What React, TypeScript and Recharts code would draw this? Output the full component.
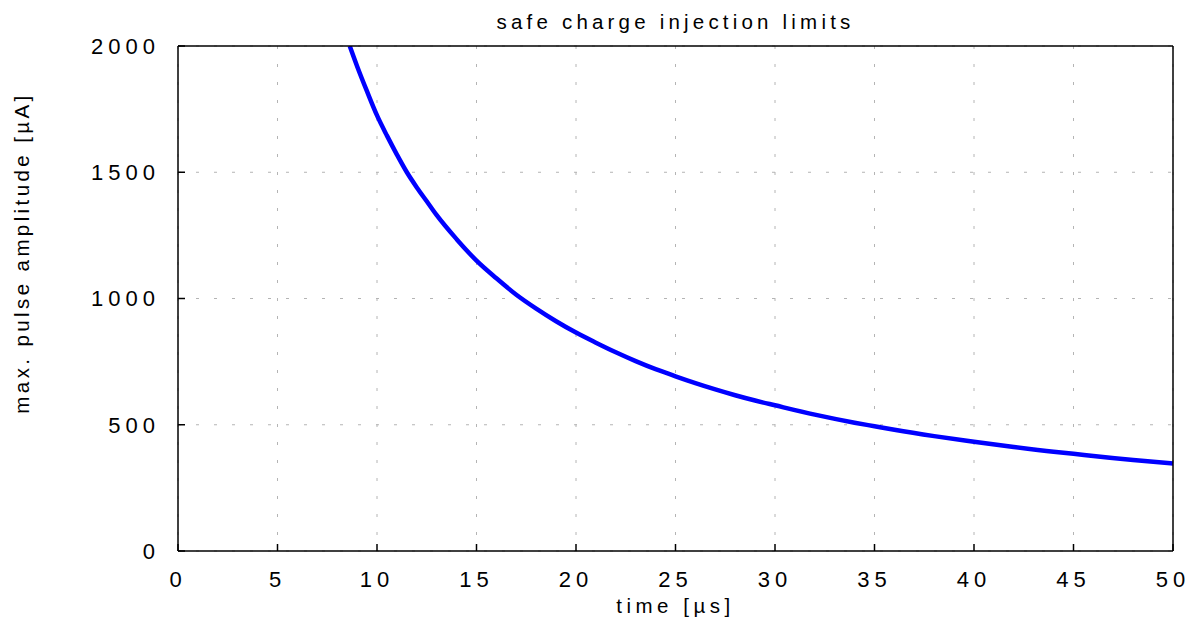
import React from 'react';
import { LineChart, Line, XAxis, YAxis, CartesianGrid } from 'recharts';

const timeUs = [8.63, 9, 9.5, 10, 10.5, 11, 11.5, 12, 12.5, 13, 14, 15, 16, 17, 18, 19, 20, 21, 22, 23, 24, 25, 26, 27, 28, 29, 30, 32, 34, 35, 36, 38, 40, 42, 44, 45, 46, 48, 50];
const amplitude = [2000, 1920, 1820, 1725, 1645, 1570, 1500, 1440, 1385, 1330, 1235, 1150, 1080, 1015, 960, 910, 865, 825, 787, 752, 720, 692, 665, 640, 617, 596, 577, 540, 508, 494, 480, 455, 433, 412, 393, 385, 376, 360, 347];
const xTicks = [0, 5, 10, 15, 20, 25, 30, 35, 40, 45, 50];
const yTicks = [0, 500, 1000, 1500, 2000];

const data = timeUs.map((t, i) => ({ t, v: amplitude[i] }));

const FONT = '"Liberation Sans", Arial, sans-serif';
const tickStyle = { fontSize: 22, fill: '#000', fontFamily: FONT, letterSpacing: 5 };

const TitleLabel = (props: any) => {
  const vb = props.viewBox;
  return (
    <text x={vb.x + vb.width / 2} y={vb.y + 29} textAnchor="middle" fontSize={20.5} fontFamily={FONT} fill="#000" style={{ letterSpacing: 4.2 }}>
      safe charge injection limits
    </text>
  );
};

const XLabel = (props: any) => {
  const vb = props.viewBox;
  return (
    <text x={vb.x + vb.width / 2} y={vb.y + 62} textAnchor="middle" fontSize={20.5} fontFamily={FONT} fill="#000" style={{ letterSpacing: 4.5 }}>
      time [µs]
    </text>
  );
};

const YLabel = (props: any) => {
  const vb = props.viewBox;
  const cx = vb.x + 29;
  const cy = vb.y + 207;
  return (
    <text x={cx} y={cy} textAnchor="middle" fontSize={20.5} fontFamily={FONT} fill="#000" transform={`rotate(-90 ${cx} ${cy})`} style={{ letterSpacing: 3.4 }}>
      max. pulse amplitude [µA]
    </text>
  );
};

export default function App() {
  return (
    <div style={{ position: 'absolute', left: 0, top: 0, background: '#fff' }}>
      <LineChart width={1198} height={624} data={data} margin={{ top: 0, right: 0, bottom: 0, left: 0 }}>
        <CartesianGrid xAxisId="bottom" yAxisId="left" stroke="#b4b4b4" strokeDasharray="3 15" strokeWidth={1} />
        <XAxis
          xAxisId="bottom"
          dataKey="t"
          type="number"
          domain={[0, 50]}
          ticks={xTicks}
          orientation="bottom"
          height={73}
          allowDataOverflow
          stroke="#000"
          axisLine={{ stroke: '#000', strokeWidth: 1.5 }}
          tickLine={{ stroke: '#000', strokeWidth: 1.5 }}
          tickSize={-7}
          tickMargin={27}
          tick={tickStyle}
          label={<XLabel />}
        />
        <XAxis
          xAxisId="top"
          dataKey="t"
          type="number"
          domain={[0, 50]}
          ticks={xTicks}
          orientation="top"
          height={46}
          allowDataOverflow
          axisLine={{ stroke: '#000', strokeWidth: 1.5 }}
          tickLine={{ stroke: '#000', strokeWidth: 1.5 }}
          tickSize={-7}
          tick={false}
          label={<TitleLabel />}
        />
        <YAxis
          yAxisId="left"
          type="number"
          domain={[0, 2000]}
          ticks={yTicks}
          orientation="left"
          width={178}
          allowDataOverflow
          axisLine={{ stroke: '#000', strokeWidth: 1.5 }}
          tickLine={{ stroke: '#000', strokeWidth: 1.5 }}
          tickSize={-7}
          tickMargin={25}
          tick={tickStyle}
          label={<YLabel />}
        />
        <YAxis
          yAxisId="right"
          type="number"
          domain={[0, 2000]}
          ticks={yTicks}
          orientation="right"
          width={25}
          allowDataOverflow
          axisLine={{ stroke: '#000', strokeWidth: 1.5 }}
          tickLine={{ stroke: '#000', strokeWidth: 1.5 }}
          tickSize={-7}
          tick={false}
        />
        <Line
          xAxisId="bottom"
          yAxisId="left"
          type="monotone"
          dataKey="v"
          stroke="#0000ff"
          strokeWidth={4.5}
          dot={false}
          isAnimationActive={false}
        />
      </LineChart>
    </div>
  );
}
